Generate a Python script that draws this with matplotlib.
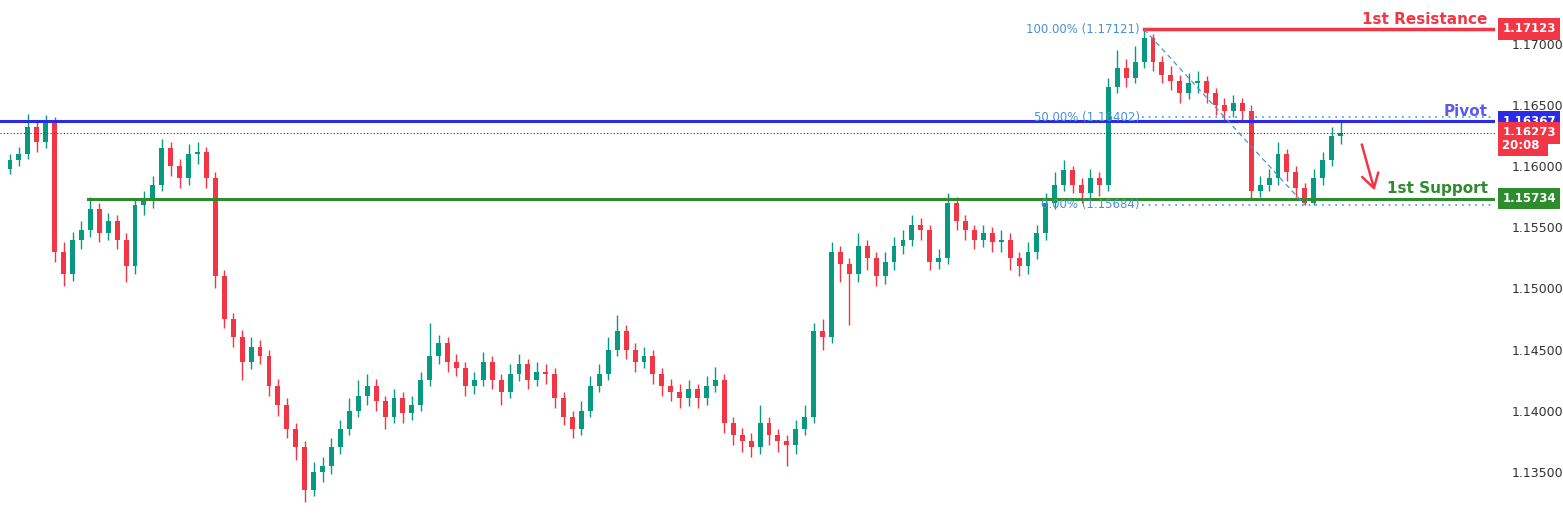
import numpy as np
import matplotlib.pyplot as plt
from matplotlib.patches import FancyArrowPatch

# OHLC (open of each candle = previous close)
first_open = 1.1598
closes = [1.1605, 1.1610, 1.1632, 1.1620, 1.1635, 1.1530, 1.1512, 1.1540, 1.1548, 1.1565,
          1.1545, 1.1555, 1.1540, 1.1518, 1.1568, 1.1572, 1.1585, 1.1615, 1.1600, 1.1590,
          1.1610, 1.1612, 1.1590, 1.1510, 1.1475, 1.1460, 1.1440, 1.1452, 1.1445, 1.1420,
          1.1405, 1.1385, 1.1370, 1.1335, 1.1350, 1.1355, 1.1370, 1.1385, 1.1400, 1.1412,
          1.1420, 1.1408, 1.1395, 1.1410, 1.1398, 1.1405, 1.1425, 1.1445, 1.1455, 1.1440,
          1.1435, 1.1420, 1.1425, 1.1440, 1.1425, 1.1415, 1.1430, 1.1438, 1.1425, 1.1432,
          1.1430, 1.1410, 1.1395, 1.1385, 1.1400, 1.1420, 1.1430, 1.1450, 1.1465, 1.1450,
          1.1440, 1.1445, 1.1430, 1.1420, 1.1415, 1.1410, 1.1418, 1.1410, 1.1420, 1.1425,
          1.1390, 1.1380, 1.1375, 1.1370, 1.1390, 1.1380, 1.1375, 1.1372, 1.1385, 1.1395,
          1.1465, 1.1460, 1.1530, 1.1520, 1.1512, 1.1535, 1.1525, 1.1510, 1.1522, 1.1535,
          1.1540, 1.1552, 1.1548, 1.1522, 1.1525, 1.1570, 1.1555, 1.1548, 1.1540, 1.1545,
          1.1538, 1.1540, 1.1525, 1.1518, 1.1530, 1.1545, 1.1570, 1.1585, 1.1597, 1.1585,
          1.1578, 1.1590, 1.1585, 1.1665, 1.1680, 1.1672, 1.1685, 1.1705, 1.1685, 1.1675,
          1.1670, 1.1660, 1.1668, 1.1670, 1.1660, 1.1650, 1.1645, 1.1652, 1.1645, 1.1580,
          1.1585, 1.1590, 1.1610, 1.1595, 1.1582, 1.1570, 1.1590, 1.1605, 1.1625, 1.16273]
highs = [1.1610, 1.1616, 1.1643, 1.1638, 1.1642, 1.1640, 1.1538, 1.1546, 1.1555, 1.1575,
         1.1570, 1.1562, 1.1560, 1.1545, 1.1574, 1.1580, 1.1592, 1.1622, 1.1620, 1.1606,
         1.1618, 1.1620, 1.1616, 1.1595, 1.1515, 1.1480, 1.1466, 1.1460, 1.1458, 1.1450,
         1.1426, 1.1410, 1.1390, 1.1375, 1.1358, 1.1362, 1.1378, 1.1392, 1.1410, 1.1425,
         1.1430, 1.1426, 1.1412, 1.1418, 1.1415, 1.1412, 1.1432, 1.1472, 1.1462, 1.1460,
         1.1446, 1.1440, 1.1432, 1.1448, 1.1445, 1.1430, 1.1438, 1.1446, 1.1442, 1.1440,
         1.1438, 1.1435, 1.1415, 1.1400, 1.1408, 1.1428, 1.1438, 1.1460, 1.1478, 1.1470,
         1.1455, 1.1452, 1.1450, 1.1435, 1.1426, 1.1422, 1.1425, 1.1422, 1.1428, 1.1436,
         1.1430, 1.1395, 1.1386, 1.1382, 1.1405, 1.1395, 1.1385, 1.1380, 1.1392, 1.1405,
         1.1472, 1.1475, 1.1538, 1.1535, 1.1525, 1.1545, 1.1540, 1.1530, 1.1530, 1.1542,
         1.1548, 1.1560, 1.1558, 1.1552, 1.1532, 1.1578, 1.1575, 1.1560, 1.1552, 1.1552,
         1.1550, 1.1548, 1.1545, 1.1530, 1.1538, 1.1552, 1.1578, 1.1595, 1.1605, 1.1600,
         1.1590, 1.1598, 1.1595, 1.1672, 1.1695, 1.1688, 1.1698, 1.17121, 1.1708, 1.1690,
         1.1682, 1.1675, 1.1676, 1.1678, 1.1674, 1.1664, 1.1656, 1.1658, 1.1656, 1.1650,
         1.1592, 1.1598, 1.1620, 1.1614, 1.1600, 1.1586, 1.1598, 1.1612, 1.1632, 1.1637]
lows = [1.1594, 1.1600, 1.1606, 1.1612, 1.1615, 1.1522, 1.1502, 1.1506, 1.1532, 1.1542,
        1.1538, 1.1540, 1.1532, 1.1505, 1.1512, 1.1560, 1.1566, 1.1580, 1.1592, 1.1582,
        1.1585, 1.1602, 1.1582, 1.1500, 1.1468, 1.1452, 1.1425, 1.1434, 1.1438, 1.1412,
        1.1396, 1.1378, 1.1360, 1.1325, 1.1330, 1.1342, 1.1348, 1.1365, 1.1380, 1.1395,
        1.1405, 1.1400, 1.1385, 1.1390, 1.1390, 1.1392, 1.1400, 1.1420, 1.1438, 1.1432,
        1.1428, 1.1412, 1.1414, 1.1420, 1.1418, 1.1405, 1.1410, 1.1424, 1.1418, 1.1420,
        1.1422, 1.1402, 1.1388, 1.1378, 1.1380, 1.1395, 1.1415, 1.1425, 1.1445, 1.1442,
        1.1432, 1.1435, 1.1422, 1.1412, 1.1408, 1.1402, 1.1404, 1.1402, 1.1405, 1.1415,
        1.1382, 1.1372, 1.1366, 1.1362, 1.1365, 1.1372, 1.1366, 1.1355, 1.1365, 1.1380,
        1.1390, 1.1450, 1.1455, 1.1505, 1.1470, 1.1505, 1.1515, 1.1502, 1.1504, 1.1515,
        1.1528, 1.1535, 1.1540, 1.1515, 1.1516, 1.1520, 1.1548, 1.1540, 1.1532, 1.1534,
        1.1530, 1.1530, 1.1515, 1.1510, 1.1512, 1.1524, 1.1540, 1.1565, 1.1580, 1.1578,
        1.1570, 1.1572, 1.1576, 1.1580, 1.1660, 1.1665, 1.1668, 1.1680, 1.1678, 1.1668,
        1.1662, 1.1652, 1.1655, 1.1660, 1.1652, 1.1642, 1.1638, 1.1640, 1.1638, 1.1574,
        1.1575, 1.1580, 1.1585, 1.1588, 1.1575, 1.15684, 1.1568, 1.1585, 1.1600, 1.1618]

resistance = 1.17123
pivot = 1.16367
support = 1.15734
current = 1.16273
fib_100 = 1.17121
fib_50 = 1.16402
fib_0 = 1.15684
y_ticks = [1.135, 1.140, 1.145, 1.150, 1.155, 1.160, 1.165, 1.170]

GREEN = "#089981"
RED = "#f23645"
BLUE = "#2a2ae8"
SUP = "#2e8b2e"

opens = [first_open] + closes[:-1]
n = len(closes)
x = np.arange(n)

fig = plt.figure(figsize=(15.63, 5.31), dpi=100)
ax = fig.add_axes([0, 0, 1495 / 1563, 1])
ax.set_xlim(-1.12, 166.3)
ax.set_ylim(1.13016, 1.17360)

for i in x:
    o, c = opens[i], closes[i]
    col = GREEN if c >= o else RED
    ax.vlines(i, lows[i], highs[i], color=col, lw=1)
    ax.bar(i, max(abs(c - o), 0.00004), bottom=min(o, c), width=0.55, color=col, lw=0)

# levels
ax.plot([127, 166.3], [resistance] * 2, color=RED, lw=2.5)
ax.axhline(pivot, color=BLUE, lw=2.2)
ax.plot([8.7, 166.3], [support] * 2, color=SUP, lw=2.2)
ax.axhline(current, color="#333333", lw=0.8, ls=(0, (1, 2)))

# fib
fib_col = "#4a90d9"
ax.plot([126.8, 166.3], [fib_50] * 2, color=fib_col, lw=1.2, ls=(0, (1, 3)))
ax.plot([126.8, 166.3], [fib_0] * 2, color=fib_col, lw=1.2, ls=(0, (1, 3)))
ax.plot([127, 145], [fib_100, fib_0], color=fib_col, lw=0.9, ls=(0, (4, 3)))
ax.text(126.5, fib_100, "100.00% (1.17121)", color=fib_col, fontsize=8.5, ha="right", va="center")
ax.text(126.5, fib_50, "50.00% (1.16402)", color=fib_col, fontsize=8.5, ha="right", va="center")
ax.text(126.5, fib_0, "0.00% (1.15684)", color=fib_col, fontsize=8.5, ha="right", va="center")

# labels
ax.text(165.5, resistance + 0.0002, "1st Resistance", color=RED, fontsize=11, fontweight="bold",
        ha="right", va="bottom")
ax.text(165.5, pivot + 0.0002, "Pivot", color="#5b5bf0", fontsize=11, fontweight="bold",
        ha="right", va="bottom")
ax.text(165.5, support + 0.0002, "1st Support", color=SUP, fontsize=11, fontweight="bold",
        ha="right", va="bottom")

arrow = FancyArrowPatch((151.3, 1.1620), (152.9, 1.1578), arrowstyle="->,head_length=0.5,head_width=0.3",
                        color=RED, lw=1.8, mutation_scale=20)
ax.add_patch(arrow)

ax.yaxis.tick_right()
ax.set_yticks(y_ticks)
ax.set_yticklabels([f"{v:.5f}" for v in y_ticks], fontsize=9, color="#333333")
ax.tick_params(axis="y", length=0, pad=12)
ax.set_xticks([])
for s in ax.spines.values():
    s.set_visible(False)

# price boxes on the right scale
def price_box(val, bg, txt=None, dy=0.0):
    ax.text(1.005, val + dy, txt or f"{val:.5f}", transform=ax.get_yaxis_transform(), fontsize=8.5,
            fontweight="bold", color="white", va="center", ha="left",
            bbox=dict(boxstyle="square,pad=0.35", fc=bg, ec="none"), clip_on=False)

price_box(resistance, RED)
price_box(pivot, BLUE)
price_box(support, SUP)
price_box(current, RED)
price_box(current, RED, txt="20:08 ", dy=-0.00105)

fig.savefig("out.png", dpi=100)
